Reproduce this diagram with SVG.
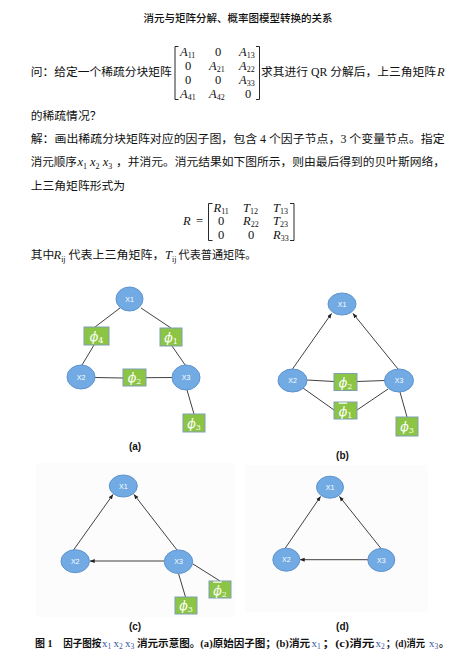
<svg xmlns="http://www.w3.org/2000/svg" width="472" height="672" viewBox="0 0 472 672">
  <defs>
    <marker id="arrow" viewBox="0 0 8 8" refX="7.5" refY="4" markerWidth="5" markerHeight="5" orient="auto" markerUnits="userSpaceOnUse">
      <path d="M0,0.8 L8,4 L0,7.2 Z" fill="#222"/>
    </marker>
  </defs>
  <style>
    .title { font-family: "Noto Sans CJK SC", sans-serif; font-size: 10.5px; font-weight: 500; fill: #111; }
    .body { font-family: "Liberation Serif", "Noto Sans CJK SC", serif; font-size: 11.8px; fill: #111; }
    .mi { font-family: "Liberation Serif", serif; font-style: italic; font-size: 12.5px; fill: #111; }
    .mn { font-family: "Liberation Serif", serif; font-size: 12.5px; fill: #111; }
    .sub { font-style: normal; font-size: 8px; }
    .brk { fill: none; stroke: #111; stroke-width: 0.9; }
    .var ellipse { fill: #72abe3; stroke: #5e93cf; stroke-width: 1; }
    .var text { font-family: "Liberation Sans", Arial, sans-serif; font-size: 7px; fill: #ffffff; text-anchor: middle; }
    .fac rect { fill: #8cc443; stroke: #7f9fb3; stroke-width: 1; }
    .fac text { font-family: "DejaVu Serif", serif; font-style: italic; font-size: 12.5px; fill: #ffffff; text-anchor: middle; }
    .fac .fs { font-size: 8px; font-style: normal; }
    .fac .bar { text-decoration: overline; }
    .edge line { stroke: #2b2b2b; stroke-width: 0.9; }
    .arc line { stroke: #2b2b2b; stroke-width: 0.9; marker-end: url(#arrow); }
    .cap { font-family: "Liberation Serif", "Noto Sans CJK SC", serif; font-size: 10px; font-weight: 700; fill: #111; }
    .panel { fill: #fcfcfc; }
    .sublabel { font-family: "Liberation Sans", Arial, sans-serif; font-size: 10px; font-weight: 700; fill: #111; text-anchor: middle; }
    .cx { font-family: "Liberation Serif", serif; font-size: 11px; font-weight: 400; fill: #3457a6; }
    .cxs { font-size: 7.5px; }
  </style>

  <!-- heading -->
  <text class="title" x="238" y="22" text-anchor="middle">消元与矩阵分解、概率图模型转换的关系</text>

  <!-- question -->
  <text class="body" x="30.7" y="76" textLength="141" lengthAdjust="spacingAndGlyphs">问：给定一个稀疏分块矩阵</text>
  <g id="matrix-A">
    <path class="brk" d="M178.5,46.5 H175 V99.5 H178.5"/>
    <path class="brk" d="M256,46.5 H259.5 V99.5 H256"/>
    <text class="mi" x="180" y="56">A<tspan class="sub" dy="2">11</tspan></text>
    <text class="mn" x="218" y="56" text-anchor="middle">0</text>
    <text class="mi" x="239" y="56">A<tspan class="sub" dy="2">13</tspan></text>
    <text class="mn" x="188" y="69.5" text-anchor="middle">0</text>
    <text class="mi" x="209" y="69.5">A<tspan class="sub" dy="2">21</tspan></text>
    <text class="mi" x="239" y="69.5">A<tspan class="sub" dy="2">22</tspan></text>
    <text class="mn" x="188" y="83.5" text-anchor="middle">0</text>
    <text class="mn" x="218" y="83.5" text-anchor="middle">0</text>
    <text class="mi" x="239" y="84">A<tspan class="sub" dy="2">33</tspan></text>
    <text class="mi" x="180" y="97.5">A<tspan class="sub" dy="2">41</tspan></text>
    <text class="mi" x="209" y="97.5">A<tspan class="sub" dy="2">42</tspan></text>
    <text class="mn" x="248" y="97.5" text-anchor="middle">0</text>
  </g>
  <text class="body" x="261" y="76" textLength="175" lengthAdjust="spacingAndGlyphs">求其进行 QR 分解后，上三角矩阵</text>
  <text class="mi" x="437" y="76">R</text>
  <text class="body" x="30.7" y="120">的稀疏情况？</text>

  <!-- answer -->
  <text class="body" x="30.7" y="143" textLength="414" lengthAdjust="spacingAndGlyphs">解：画出稀疏分块矩阵对应的因子图，包含 4 个因子节点，3 个变量节点。指定</text>
  <text class="body" x="30.7" y="166" textLength="46" lengthAdjust="spacingAndGlyphs">消元顺序</text>
  <text class="mi" y="166"><tspan x="77.5">x</tspan><tspan class="sub" dy="2.5">1</tspan><tspan x="90" dy="-2.5">x</tspan><tspan class="sub" dy="2.5">2</tspan><tspan x="102.7" dy="-2.5">x</tspan><tspan class="sub" dy="2.5">3</tspan></text>
  <text class="body" x="116" y="166" textLength="329" lengthAdjust="spacingAndGlyphs">，并消元。消元结果如下图所示，则由最后得到的贝叶斯网络，</text>
  <text class="body" x="30.7" y="190">上三角矩阵形式为</text>

  <g id="matrix-R">
    <text class="mi" x="183" y="225">R</text>
    <text class="mn" x="196" y="225">=</text>
    <path class="brk" d="M212.5,203.5 H208.5 V240.5 H212.5"/>
    <path class="brk" d="M290,203.5 H294 V240.5 H290"/>
    <text class="mi" x="213.5" y="211.5">R<tspan class="sub" dy="2">11</tspan></text>
    <text class="mi" x="243" y="211.5">T<tspan class="sub" dy="2">12</tspan></text>
    <text class="mi" x="273" y="211.5">T<tspan class="sub" dy="2">13</tspan></text>
    <text class="mn" x="221" y="225" text-anchor="middle">0</text>
    <text class="mi" x="243" y="225">R<tspan class="sub" dy="2">22</tspan></text>
    <text class="mi" x="273" y="225">T<tspan class="sub" dy="2">23</tspan></text>
    <text class="mn" x="221" y="239" text-anchor="middle">0</text>
    <text class="mn" x="251" y="239" text-anchor="middle">0</text>
    <text class="mi" x="273" y="239">R<tspan class="sub" dy="2">33</tspan></text>
  </g>

  <text class="body" x="30.7" y="259">其中</text>
  <text class="mi" x="53.5" y="259">R<tspan class="sub" font-style="italic" dy="2.5">ij</tspan></text>
  <text class="body" x="68.5" y="259" textLength="96" lengthAdjust="spacingAndGlyphs">代表上三角矩阵，</text>
  <text class="mi" x="165" y="259">T<tspan class="sub" font-style="italic" dy="2.5">ij</tspan></text>
  <text class="body" x="178.5" y="259" textLength="78" lengthAdjust="spacingAndGlyphs">代表普通矩阵。</text>

  <!-- faint backdrops behind panels (c) and (d) -->
  <rect class="panel" x="36" y="463" width="199" height="154"/>
  <rect class="panel" x="245" y="465" width="183" height="147"/>

  <!-- connectors -->
  <g id="connectors">
    <!-- (a) original factor graph -->
    <g class="edge">
      <line x1="120" y1="308" x2="95" y2="327"/>
      <line x1="141" y1="308" x2="171" y2="328"/>
      <line x1="94" y1="345" x2="82" y2="365"/>
      <line x1="172" y1="346" x2="185.5" y2="365.5"/>
      <line x1="95" y1="377.5" x2="123" y2="378"/>
      <line x1="146" y1="377.7" x2="172" y2="377.5"/>
      <line x1="187" y1="390" x2="194" y2="414"/>
    </g>
    <!-- (b) after eliminating x1 -->
    <g class="arc">
      <line x1="292.5" y1="369" x2="331.5" y2="313.5"/>
      <line x1="398" y1="369" x2="353" y2="313.5"/>
    </g>
    <g class="edge">
      <line x1="307" y1="380" x2="334" y2="381.5"/>
      <line x1="357" y1="381.5" x2="385" y2="380.5"/>
      <line x1="303" y1="388" x2="334" y2="410"/>
      <line x1="357" y1="410" x2="388" y2="389"/>
      <line x1="400" y1="392" x2="407" y2="417"/>
    </g>
    <!-- (c) after eliminating x2 -->
    <g class="arc">
      <line x1="73.5" y1="550" x2="113" y2="494.5"/>
      <line x1="177" y1="550" x2="134" y2="494.5"/>
      <line x1="164.3" y1="561" x2="90" y2="561"/>
    </g>
    <g class="edge">
      <line x1="178.5" y1="573.5" x2="185.5" y2="597"/>
      <line x1="193" y1="564" x2="220" y2="581"/>
    </g>
    <!-- (d) after eliminating x3 -->
    <g class="arc">
      <line x1="285" y1="548.5" x2="320.5" y2="496.5"/>
      <line x1="381" y1="548.5" x2="339.5" y2="496.5"/>
      <line x1="368" y1="559.7" x2="300" y2="559.7"/>
    </g>
  </g>

  <!-- (a) nodes -->
  <g id="a-x1" class="var"><ellipse cx="129.5" cy="299" rx="13.5" ry="12"/><text x="129.5" y="301.5">X1</text></g>
  <g id="a-x2" class="var"><ellipse cx="81" cy="377" rx="14" ry="12"/><text x="81" y="379.5">X2</text></g>
  <g id="a-x3" class="var"><ellipse cx="186" cy="377.5" rx="14" ry="12.5"/><text x="186" y="380">X3</text></g>
  <g id="a-phi4" class="fac"><rect x="84" y="327" width="25" height="18"/><text x="96.5" y="340.5">ϕ<tspan class="fs" dy="2">4</tspan></text></g>
  <g id="a-phi1" class="fac"><rect x="160" y="328" width="22" height="18"/><text x="171" y="341.5">ϕ<tspan class="fs" dy="2">1</tspan></text></g>
  <g id="a-phi2" class="fac"><rect x="123" y="369" width="23" height="17"/><text x="134.5" y="382">ϕ<tspan class="fs" dy="2">2</tspan></text></g>
  <g id="a-phi3" class="fac"><rect x="183" y="414" width="22" height="18"/><text x="194" y="427.5">ϕ<tspan class="fs" dy="2">3</tspan></text></g>
  <text class="sublabel" x="135" y="450">(a)</text>

  <!-- (b) nodes -->
  <g id="b-x1" class="var"><ellipse cx="342" cy="304" rx="14" ry="11"/><text x="342" y="306.5">X1</text></g>
  <g id="b-x2" class="var"><ellipse cx="292.5" cy="380.5" rx="14.5" ry="11.5"/><text x="292.5" y="383">X2</text></g>
  <g id="b-x3" class="var"><ellipse cx="399" cy="380.5" rx="14.5" ry="11.5"/><text x="399" y="383">X3</text></g>
  <g id="b-phi2" class="fac"><rect x="334" y="373.5" width="23" height="17"/><text x="345.5" y="386.5">ϕ<tspan class="fs" dy="2">2</tspan></text></g>
  <g id="b-phi1bar" class="fac"><rect x="334" y="402" width="23" height="17"/><text x="345.5" y="415.5"><tspan class="bar">ϕ</tspan><tspan class="fs" dy="2">1</tspan></text></g>
  <g id="b-phi3" class="fac"><rect x="396" y="417" width="22" height="19"/><text x="407" y="431">ϕ<tspan class="fs" dy="2">3</tspan></text></g>
  <text class="sublabel" x="342.5" y="458.5">(b)</text>

  <!-- (c) nodes -->
  <g id="c-x1" class="var"><ellipse cx="123.3" cy="486" rx="14" ry="11"/><text x="123.3" y="488.5">X1</text></g>
  <g id="c-x2" class="var"><ellipse cx="75.2" cy="561.2" rx="14.2" ry="11.5"/><text x="75.2" y="563.7">X2</text></g>
  <g id="c-x3" class="var"><ellipse cx="178.5" cy="561.7" rx="14.2" ry="11.8"/><text x="178.5" y="564.2">X3</text></g>
  <g id="c-phi3" class="fac"><rect x="175" y="597" width="22" height="17"/><text x="186" y="610">ϕ<tspan class="fs" dy="2">3</tspan></text></g>
  <g id="c-phi2bar" class="fac"><rect x="209" y="581" width="22" height="17"/><text x="220" y="594.5"><tspan class="bar">ϕ</tspan><tspan class="fs" dy="2">2</tspan></text></g>
  <text class="sublabel" x="135" y="630">(c)</text>

  <!-- (d) nodes -->
  <g id="d-x1" class="var"><ellipse cx="330" cy="487.2" rx="13.5" ry="11"/><text x="330" y="489.7">X1</text></g>
  <g id="d-x2" class="var"><ellipse cx="286.3" cy="559.7" rx="13.5" ry="11.5"/><text x="286.3" y="562.2">X2</text></g>
  <g id="d-x3" class="var"><ellipse cx="381.3" cy="560" rx="13.5" ry="11.5"/><text x="381.3" y="562.5">X3</text></g>
  <text class="sublabel" x="342.5" y="630">(d)</text>

  <!-- figure caption -->
  <g id="caption">
    <text class="cap" x="35" y="647">图 1</text>
    <text class="cap" x="63.3" y="647" textLength="38" lengthAdjust="spacingAndGlyphs">因子图按</text>
    <text class="cx" y="647"><tspan x="102">x</tspan><tspan class="cxs" dy="2">1</tspan><tspan x="113.5" dy="-2">x</tspan><tspan class="cxs" dy="2">2</tspan><tspan x="125" dy="-2">x</tspan><tspan class="cxs" dy="2">3</tspan></text>
    <text class="cap" x="137" y="647" textLength="173" lengthAdjust="spacingAndGlyphs">消元示意图。(a)原始因子图；(b)消元</text>
    <text class="cx" x="311.5" y="647">x<tspan class="cxs" dy="2">1</tspan></text>
    <text class="cap" x="322.5" y="647" textLength="52" lengthAdjust="spacingAndGlyphs">；(c)消元</text>
    <text class="cx" x="375.5" y="647">x<tspan class="cxs" dy="2">2</tspan></text>
    <text class="cap" x="386" y="647" textLength="39" lengthAdjust="spacingAndGlyphs">；(d)消元</text>
    <text class="cx" x="429" y="647">x<tspan class="cxs" dy="2">3</tspan></text>
    <text class="cap" x="439" y="647">。</text>
  </g>
</svg>
